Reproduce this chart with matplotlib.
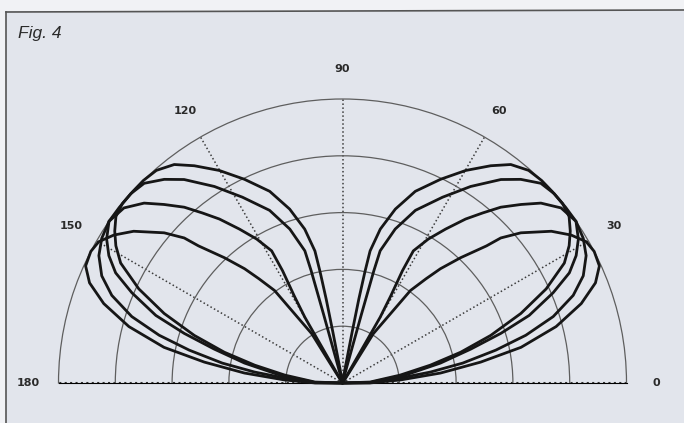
import numpy as np
import matplotlib
matplotlib.use("Agg")
import matplotlib.pyplot as plt
from matplotlib.patches import Rectangle
from matplotlib.lines import Line2D

# ---- data: elevation pattern, right lobe (0..90 deg); left lobe is its mirror ----
theta_a = [0, 2, 7.8, 11.5, 14.6, 17.8, 21.3, 24.8, 28.4, 31.2, 33.7, 36.3, 39.2, 42.3, 45.5,
           48.8, 52.4, 55.7, 59.9, 64.3, 69.2, 73.1, 76.2, 78.2, 78.6, 79.0, 79.3, 80, 90]
r_a     = [0, 0.097, 0.205, 0.316, 0.43, 0.548, 0.674, 0.79, 0.888, 0.933, 0.964, 0.99, 1.0, 1.0, 1.0,
           0.995, 0.971, 0.926, 0.865, 0.796, 0.722, 0.64, 0.558, 0.475, 0.40, 0.30, 0.18, 0.05, 0]

theta_b = [0, 1, 7.2, 11.5, 14.8, 17.4, 19.9, 23.2, 25.9, 28.6, 31.4, 34.7, 38.2, 41.8, 45.2,
           48.8, 52.1, 56.9, 61.7, 67.1, 71.1, 74.1, 74.4, 74.6, 75, 90]
r_b     = [0, 0.097, 0.223, 0.352, 0.467, 0.584, 0.699, 0.807, 0.888, 0.937, 0.973, 1.0, 1.0, 1.0, 0.991,
           0.953, 0.908, 0.826, 0.743, 0.66, 0.573, 0.484, 0.41, 0.25, 0.06, 0]

theta_c = [0, 0.6, 4.9, 7.1, 9.4, 12.1, 14.6, 17.5, 20.8, 24.0, 27.6, 31.0, 34.7, 38.7, 42.2,
           45.0, 48.0, 50.5, 53.1, 56.2, 59.2, 61.8, 61.9, 61.0, 60.2, 60, 90]
r_c     = [0, 0.097, 0.204, 0.312, 0.429, 0.552, 0.667, 0.778, 0.869, 0.928, 0.968, 0.989, 1.0, 0.986, 0.943,
           0.889, 0.833, 0.776, 0.722, 0.652, 0.59, 0.528, 0.448, 0.35, 0.267, 0.03, 0]

theta_d = [0, 0.1, 3.0, 5.8, 8.6, 11.3, 14.8, 18.4, 21.6, 24.5, 27.6, 30.1, 32.9, 36.0, 40.1,
           42.5, 43.6, 46.7, 49.4, 51.3, 53.7, 58.0, 57.5, 90]
r_d     = [0, 0.097, 0.204, 0.347, 0.492, 0.641, 0.778, 0.886, 0.958, 0.994, 1.0, 0.992, 0.959, 0.909, 0.821,
           0.756, 0.70, 0.606, 0.53, 0.47, 0.404, 0.205, 0.05, 0]

curves = [(theta_a, r_a), (theta_b, r_b), (theta_c, r_c), (theta_d, r_d)]

grid_angles = [0, 30, 60, 90, 120, 150, 180]
grid_labels = ["0", "30", "60", "90", "120", "150", "180"]
ring_radii = [0.2, 0.4, 0.6, 0.8]
fig_title = "Fig. 4"

# ---- figure ----
W, H = 684, 423
fig = plt.figure(figsize=(W / 100, H / 100), dpi=100)
fig.patch.set_facecolor("#f1f2f5")

# scanned panel background and frame
fig.add_artist(Rectangle((6 / W, 0), 1, (H - 11) / H, transform=fig.transFigure,
                         facecolor="#e2e5ec", edgecolor="none", zorder=0))
fig.add_artist(Line2D([6 / W, 6 / W], [0, (H - 12) / H], transform=fig.transFigure,
                      color="#555555", lw=1.2))
fig.add_artist(Line2D([6 / W, 1], [(H - 12) / H, (H - 10) / H], transform=fig.transFigure,
                      color="#555555", lw=1.2))

fig.text(18 / W, (H - 38) / H, fig_title, fontsize=12.5, style="italic",
         family=["Liberation Sans", "DejaVu Sans"], color="#2a2a2a", va="baseline", ha="left")

# polar axes: centre at (342.5, 383) px, radius 284 px.
# A half-wedge is fitted into a square box, with the centre 1/4 up from the bottom.
cx, cy, R = 342.5, 383.0, 284.0
ax = fig.add_axes([(cx - R) / W, ((H - cy) - 0.5 * R) / H, 2 * R / W, 2 * R / H],
                  projection="polar")
ax.set_thetamin(0)
ax.set_thetamax(180)
ax.set_ylim(0, 1)
ax.patch.set_facecolor("none")

ax.set_xticks(np.radians(grid_angles))
ax.set_xticklabels([])
ax.set_yticks(ring_radii)
ax.set_yticklabels([])
ax.tick_params(length=0)
ax.yaxis.grid(True, color="#5e5e5e", linestyle="-", lw=0.9)
ax.xaxis.grid(True, color="#3c3c3c", linestyle=(0, (1, 1.6)), lw=1.1)
gl = ax.xaxis.get_gridlines()
for g in (gl[0], gl[-1]):
    g.set_linewidth(1.5)
    g.set_color("#333333")
ax.spines["polar"].set_color("#5e5e5e")
ax.spines["polar"].set_linewidth(0.9)
for s in ("start", "end", "inner"):
    if s in ax.spines:
        ax.spines[s].set_visible(False)

for ang, lab in zip(grid_angles, grid_labels):
    ax.text(np.radians(ang), 1.105, lab, ha="center", va="center", fontsize=8,
            fontweight="bold", color="#2a2a2a", clip_on=False,
            family=["DejaVu Sans"])

for th, rv in curves:
    th = np.asarray(th, dtype=float)
    rv = np.asarray(rv, dtype=float)
    full_th = np.concatenate([th, 180.0 - th[::-1]])
    full_r = np.concatenate([rv, rv[::-1]])
    ax.plot(np.radians(full_th), full_r, color="#161616", lw=2.0,
            solid_joinstyle="round", solid_capstyle="round", clip_on=False, zorder=5)

fig.savefig("out.png", dpi=100, facecolor=fig.get_facecolor())
